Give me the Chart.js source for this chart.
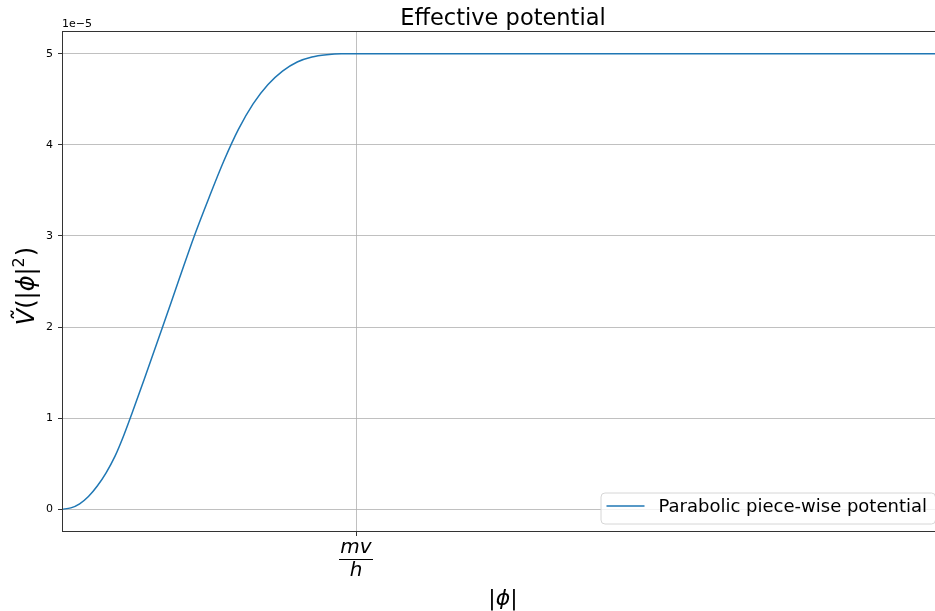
<!DOCTYPE html>
<html>
<head>
<meta charset="utf-8">
<script src="https://cdn.jsdelivr.net/npm/chart.js@4.4.1/dist/chart.umd.min.js"></script>
<style>
  html, body { margin: 0; padding: 0; background: #fff; overflow: hidden; }
  #wrap { width: 935px; height: 611px; overflow: hidden; }
  canvas { display: block; }
</style>
</head>
<body>
<div id="wrap"><canvas id="potChart" width="944" height="611"></canvas></div>
<script>
// |phi| in units of mv/h
const phi = [0, 0.03, 0.06, 0.09, 0.12, 0.15, 0.18, 0.21, 0.24, 0.28, 0.34, 0.40, 0.45, 0.50,
  0.55, 0.60, 0.65, 0.70, 0.75, 0.80, 0.85, 0.90, 0.95, 1.00, 3.00]
// effective potential, in units of 1e-5
const vTilde = [0, 0.015, 0.06, 0.14, 0.255, 0.40, 0.58, 0.81, 1.07, 1.43, 1.98, 2.54, 3.0, 3.42,
  3.82, 4.17, 4.45, 4.66, 4.81, 4.91, 4.965, 4.99, 5.0, 5.0, 5.0]
const yTicks = [0, 1, 2, 3, 4, 5]
const xTicks = [1]
const seriesLabel = 'Parabolic piece-wise potential'
const titleText = 'Effective potential'

const FONT = '"DejaVu Sans", sans-serif'
const BLUE = '#1f77b4'

const points = phi.map((x, i) => ({ x: x, y: vTilde[i] }))

const decor = {
  id: 'decor',
  afterDraw(chart) {
    const ctx = chart.ctx
    const a = chart.chartArea
    ctx.save()

    // frame
    ctx.strokeStyle = '#333'
    ctx.lineWidth = 1
    ctx.strokeRect(Math.round(a.left) + 0.5, Math.round(a.top) + 0.5,
      Math.round(a.right - a.left) - 1, Math.round(a.bottom - a.top) - 1)

    // title
    ctx.fillStyle = '#000'
    ctx.font = '22.5px ' + FONT
    ctx.textAlign = 'center'
    ctx.textBaseline = 'alphabetic'
    ctx.fillText(titleText, (a.left + a.right) / 2, 25)

    // offset label
    ctx.font = '11px ' + FONT
    ctx.textAlign = 'left'
    ctx.fillText('1e\u22125', a.left, 27)

    // x tick label as fraction mv/h
    const xs = chart.scales.x
    const cx = xs.getPixelForValue(xTicks[0])
    ctx.textAlign = 'center'
    ctx.font = 'italic 20px ' + FONT
    ctx.fillText('mv', cx, 553)
    ctx.fillText('h', cx, 576)
    ctx.beginPath()
    ctx.moveTo(cx - 17, 559.5)
    ctx.lineTo(cx + 17, 559.5)
    ctx.lineWidth = 1.2
    ctx.strokeStyle = '#000'
    ctx.stroke()

    // x axis label |phi|
    const midX = (a.left + a.right) / 2
    ctx.font = 'italic 22px ' + FONT
    const wPhi = ctx.measureText('\u03d5').width
    ctx.font = '22px ' + FONT
    const wBar = ctx.measureText('|').width
    const sx = midX - (wPhi + 2 * wBar) / 2
    ctx.textAlign = 'left'
    ctx.fillText('|', sx, 605)
    ctx.font = 'italic 22px ' + FONT
    ctx.fillText('\u03d5', sx + wBar, 605)
    ctx.font = '22px ' + FONT
    ctx.fillText('|', sx + wBar + wPhi, 605)

    // y axis label V~(|phi|^2)
    const parts = [
      ['Ṽ', 'italic 24px '],
      ['(|', '24px '],
      ['\u03d5', 'italic 24px '],
      ['|', '24px '],
      ['2', '16px ', -10],
      [')', '24px ']
    ]
    let total = 0
    parts.forEach(p => { ctx.font = p[1] + FONT; total += ctx.measureText(p[0]).width + (p[0] === '2' ? 1 : 0) })
    ctx.translate(34, 286)
    ctx.rotate(-Math.PI / 2)
    let px = -total / 2
    parts.forEach(p => {
      ctx.font = p[1] + FONT
      ctx.fillText(p[0], px, p[2] || 0)
      px += ctx.measureText(p[0]).width + (p[0] === '2' ? 1 : 0)
    })
    ctx.setTransform(1, 0, 0, 1, 0, 0)

    // legend, lower right
    ctx.font = '18px ' + FONT
    const tw = ctx.measureText(seriesLabel).width
    const bw = tw + 66
    const bh = 31
    const bx = a.right - 9 - bw
    const by = a.bottom - 8.5 - bh
    ctx.beginPath()
    ctx.roundRect(bx + 0.5, by + 0.5, bw, bh, 4)
    ctx.fillStyle = 'rgba(255,255,255,0.8)'
    ctx.fill()
    ctx.strokeStyle = '#d6d6d6'
    ctx.lineWidth = 1
    ctx.stroke()
    ctx.beginPath()
    ctx.moveTo(bx + 6, by + 13.5)
    ctx.lineTo(bx + 44, by + 13.5)
    ctx.strokeStyle = BLUE
    ctx.lineWidth = 1.5
    ctx.stroke()
    ctx.fillStyle = '#000'
    ctx.textAlign = 'left'
    ctx.textBaseline = 'middle'
    ctx.fillText(seriesLabel, bx + 58, by + 14.5)

    ctx.restore()
  }
}

new Chart(document.getElementById('potChart'), {
  type: 'line',
  data: {
    datasets: [{
      label: seriesLabel,
      data: points,
      borderColor: BLUE,
      borderWidth: 1.5,
      pointRadius: 0,
      fill: false,
      cubicInterpolationMode: 'monotone'
    }]
  },
  options: {
    responsive: false,
    animation: false,
    devicePixelRatio: 1,
    layout: { padding: { top: 31, left: 0, right: 0, bottom: 0 } },
    plugins: {
      legend: { display: false },
      title: { display: false },
      tooltip: { enabled: false }
    },
    scales: {
      x: {
        type: 'linear',
        min: 0,
        max: 3,
        afterBuildTicks: s => { s.ticks = xTicks.map(v => ({ value: v })) },
        afterFit: s => { s.height = 79 },
        ticks: { callback: () => '', font: { family: FONT, size: 11 } },
        grid: { color: '#b0b0b0', tickColor: '#000', tickLength: 4, lineWidth: 0.8 },
        border: { display: false }
      },
      y: {
        min: -0.25,
        max: 5.25,
        afterBuildTicks: s => { s.ticks = yTicks.map(v => ({ value: v })) },
        afterFit: s => { s.width = 62 },
        ticks: { color: '#000', padding: 5, font: { family: FONT, size: 11 }, callback: v => String(v) },
        grid: { color: '#b0b0b0', tickColor: '#000', tickLength: 4, lineWidth: 0.8 },
        border: { display: false }
      }
    }
  },
  plugins: [decor]
})
</script>
</body>
</html>
